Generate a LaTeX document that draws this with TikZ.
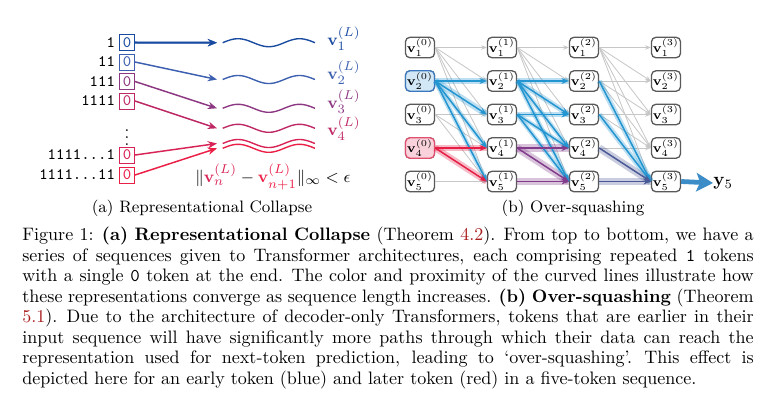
\documentclass[tikz,border=0pt]{standalone}
\usepackage{amsmath,amssymb}
\usetikzlibrary{arrows.meta,positioning}

\definecolor{rowA}{RGB}{25,75,160}
\definecolor{rowB}{RGB}{60,95,175}
\definecolor{rowC}{RGB}{140,55,130}
\definecolor{rowD}{RGB}{190,40,100}
\definecolor{rowE}{RGB}{215,35,85}
\definecolor{rowF}{RGB}{235,30,70}
\definecolor{linkred}{RGB}{170,30,30}
\definecolor{eblue}{RGB}{35,150,210}
\definecolor{ered}{RGB}{230,30,70}
\definecolor{epurple}{RGB}{130,60,140}
\definecolor{eslate}{RGB}{75,90,150}
\definecolor{yblue}{RGB}{60,140,200}
\definecolor{fillblue}{RGB}{210,232,247}
\definecolor{lineblue}{RGB}{60,120,190}
\definecolor{fillred}{RGB}{250,210,220}
\definecolor{linered}{RGB}{225,80,110}

\tikzset{
  tokbox/.style={draw=#1, text=#1, line width=0.5pt, minimum width=8.2pt,
    minimum height=8.7pt, inner sep=0pt, font=\fontsize{8.7}{10}\selectfont\ttfamily},
  toklab/.style={inner sep=0pt, font=\fontsize{8.7}{10}\selectfont\ttfamily},
  tokarrow/.style={draw=#1, line width=0.8pt, -{Stealth[length=5pt,width=4pt]}},
  wave/.style={draw=#1, line width=0.75pt},
  vlab/.style={text=#1, inner sep=0pt, anchor=west, font=\fontsize{9.5}{11}\selectfont},
  vbox/.style={draw=black!65, line width=0.7pt, rounded corners=2.5pt, fill=white,
    minimum width=14.7pt, minimum height=10.9pt, inner sep=0.8pt,
    font=\fontsize{7.5}{8}\selectfont},
  edge/.style={draw=black!22, line width=0.45pt, -{Stealth[length=3pt,width=2.4pt]}},
  hl/.style={draw=#1, line width=0.8pt, -{Stealth[length=4pt,width=3.2pt]}},
  glow/.style={draw=#1, opacity=.3},
  yarrow/.style={draw=yblue, line width=2.6pt, -{Stealth[length=9pt,width=10pt,inset=2pt]}},
  subcap/.style={anchor=base, inner sep=0pt, font=\fontsize{9}{10}\selectfont},
  capline/.style={anchor=base west, inner sep=0pt, font=\fontsize{9.8}{11}\selectfont}
}
\newcommand{\capbox}[1]{\hbox to 397.5pt{\spaceskip=3.25pt plus 3pt minus 1.5pt\xspaceskip=4.2pt plus 3pt minus 1.5pt #1}}

\begin{document}
\begin{tikzpicture}[x=0.5435pt, y=-0.5435pt]
  \useasboundingbox (0,0) rectangle (768,398);

  % (a) representational collapse
  \foreach \r/\c/\y/\t in {1/rowA/42.5/1, 2/rowB/62/11, 3/rowC/81.5/111, 4/rowD/101/1111} {
    \node[tokbox=\c] (b\r) at (127,\y) {0};
    \node[toklab, left=2pt of b\r] (t\r) {\t};
  }
  \node[tokbox=rowE] (b5) at (127,155) {0};
  \node[toklab, left=2pt of b5] (t5) {1111...1};
  \node[tokbox=rowF] (b6) at (127,175) {0};
  \node[toklab, left=2pt of b6] (t6) {1111...11};
  \node[inner sep=0pt, font=\small] (dots) at (127,132) {$\vdots$};

  \foreach \r/\c/\y in {1/rowA/42.7, 2/rowB/79.5, 3/rowC/108.3, 4/rowD/128.3, 5/rowE/143.5, 6/rowF/148.3} {
    \coordinate (e\r) at (217,\y);
    \draw[tokarrow=\c] (b\r.east) -- (e\r);
    \draw[wave=\c] plot[domain=0:1.5, samples=60, smooth] ({222.7+61.5*\x},{\y-4*sin(360*\x)});
  }
  \draw[tokarrow=rowA, line width=1.1pt] (b1.east) -- (e1);

  \node[vlab=rowA] (l1) at (327,38.5) {$\mathbf{v}_1^{(L)}$};
  \node[vlab=rowB] (l2) at (327,73) {$\mathbf{v}_2^{(L)}$};
  \node[vlab=rowC] (l3) at (327,102) {$\mathbf{v}_3^{(L)}$};
  \node[vlab=rowD] (l4) at (327,129) {$\mathbf{v}_4^{(L)}$};
  \node[vlab=black] (nrm) at (195,177)
    {$\|\textcolor{rowE}{\mathbf{v}_n^{(L)}} - \textcolor{rowF}{\mathbf{v}_{n+1}^{(L)}}\|_\infty < \epsilon$};

  % (b) over-squashing
  \foreach \l in {0,...,3}
    \foreach \i in {1,...,5}
      \node[vbox] (v-\l-\i) at ({420+82*\l},{14+33.5*\i}) {$\mathbf{v}_{\i}^{(\l)}$};
  \node[vbox, fill=fillblue, draw=lineblue] (v-0-2) at (420,81) {$\mathbf{v}_{2}^{(0)}$};
  \node[vbox, fill=fillred, draw=linered] (v-0-4) at (420,148) {$\mathbf{v}_{4}^{(0)}$};

  \foreach \a [evaluate=\a as \n using int(\a+1)] in {0,1,2}
    \foreach \b in {1,...,5}
      \foreach \c in {\b,...,5}
        \draw[edge] (v-\a-\b.east) -- (v-\n-\c.west);

  \def\hlist{0/2/2/eblue/3.5, 0/2/3/eblue/3.5, 0/2/4/eblue/2.5, 0/2/5/eblue/2.5,
    0/4/4/ered/3.5, 0/4/5/ered/3.5,
    1/2/2/eblue/3, 1/2/3/eblue/3, 1/2/4/eblue/2.5, 1/2/5/eblue/2.5,
    1/3/3/eblue/3, 1/3/4/eblue/2.5, 1/3/5/eblue/2.5,
    1/4/4/epurple/4, 1/4/5/epurple/4, 1/5/5/epurple/4,
    2/2/5/eblue/3, 2/3/5/eblue/3, 2/4/5/eslate/4, 2/5/5/eslate/4}
  \foreach \a/\b/\c/\col/\w [evaluate=\a as \n using int(\a+1)] in \hlist
    \draw[glow=\col, line width=\w pt] (v-\a-\b.east) -- (v-\n-\c.west);
  \foreach \a/\b/\c/\col/\w [evaluate=\a as \n using int(\a+1)] in \hlist
    \draw[hl=\col] (v-\a-\b.east) -- (v-\n-\c.west);

  \node[inner sep=0pt, anchor=west, font=\fontsize{10}{12}\selectfont] (y5) at (713,183) {$\mathbf{y}_5$};
  \draw[yarrow] (v-3-5.east) -- (y5.west);

  % captions
  \node[subcap] (capa) at (202,212.5) {(a) Representational Collapse};
  \node[subcap] (capb) at (573,212.5) {(b) Over-squashing};

  \node[capline] (cap1) at (22,240.7) {\capbox{Figure 1: \textbf{(a) Representational Collapse} (Theorem \textcolor{linkred}{4.2}). From top to bottom, we have a}};
  \node[capline] (cap2) at (22,261.2) {\capbox{series of sequences given to Transformer architectures, each comprising repeated \texttt{1} tokens}};
  \node[capline] (cap3) at (22,281.7) {\capbox{with a single \texttt{0} token at the end. The color and proximity of the curved lines illustrate how}};
  \node[capline] (cap4) at (22,302.2) {\capbox{these representations converge as sequence length increases. \textbf{(b) Over-squashing} (Theorem}};
  \node[capline] (cap5) at (22,322.7) {\capbox{\textcolor{linkred}{5.1}). Due to the architecture of decoder-only Transformers, tokens that are earlier in their}};
  \node[capline] (cap6) at (22,343.2) {\capbox{input sequence will have significantly more paths through which their data can reach the}};
  \node[capline] (cap7) at (22,363.7) {\capbox{representation used for next-token prediction, leading to `over-squashing'. This effect is}};
  \node[capline] (cap8) at (22,384.2)
    {depicted here for an early token (blue) and later token (red) in a five-token sequence.};
\end{tikzpicture}
\end{document}
